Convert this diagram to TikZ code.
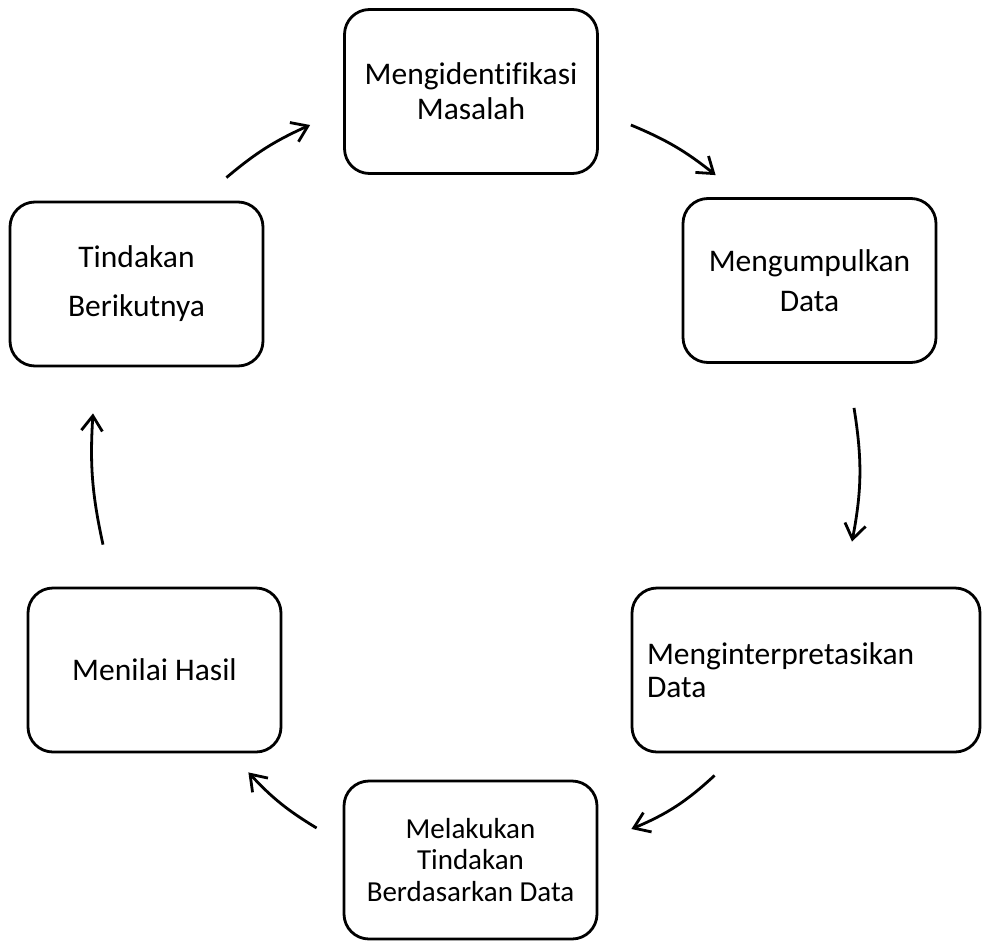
\documentclass[tikz,border=0pt]{standalone}
\usepackage{fontspec}
\setmainfont{Carlito}[Ligatures=NoCommon]
\usetikzlibrary{arrows.meta}

\tikzstyle{stage} = [rectangle, draw, rounded corners=25pt, line width=2.8pt, minimum width=253pt, minimum height=164pt, align=center, font=\fontsize{31.5}{35}\selectfont]
\tikzstyle{flow} = [line width=2.8pt, -{Straight Barb[length=15pt, width=21pt]}]

\begin{document}
\begin{tikzpicture}[x=1pt, y=1pt]
  \useasboundingbox (0,0) rectangle (984,-942);

  \node (IM) [stage] at (471,-91.5) {Mengidentifikasi\\Masalah};
  \node (KD) [stage, font=\fontsize{31.5}{40}\selectfont] at (809.5,-280.5) {Mengumpulkan\\Data};
  \node (ID) [stage, minimum width=348pt, text width=318pt, align=left, font=\fontsize{31.5}{33}\selectfont] at (806,-670) {Menginterpretasikan\\Data};
  \node (TD) [stage, minimum height=158pt, font=\fontsize{29}{31.5}\selectfont] at (470.5,-860) {Melakukan\\Tindakan\\Berdasarkan Data};
  \node (NH) [stage] at (154.5,-670) {Menilai Hasil};
  \node (TB) [stage, font=\fontsize{31.5}{49}\selectfont] at (136.5,-284) {Tindakan\\Berikutnya};

  % siklus searah jarum jam
  \draw[flow] ([shift={(-38,23)}]TB.north east) to[bend left=8] ([shift={(-33,-33.5)}]IM.west);
  \draw[flow] ([shift={(32,-33.5)}]IM.east) to[bend left=8] ([shift={(34,22)}]KD.north west);
  \draw[flow] ([shift={(44.5,-44)}]KD.south) to[bend left=10] ([shift={(46,45)}]ID.north);
  \draw[flow] ([shift={(84,-22)}]ID.south west) to[bend left=10] ([shift={(33,31)}]TD.east);
  \draw[flow] ([shift={(-26,32)}]TD.west) to[bend left=8] ([shift={(-34,-19)}]NH.south east);
  \draw[flow] ([shift={(-51.5,42)}]NH.north) to[bend left=8] ([shift={(-43.5,-46)}]TB.south);
\end{tikzpicture}
\end{document}
